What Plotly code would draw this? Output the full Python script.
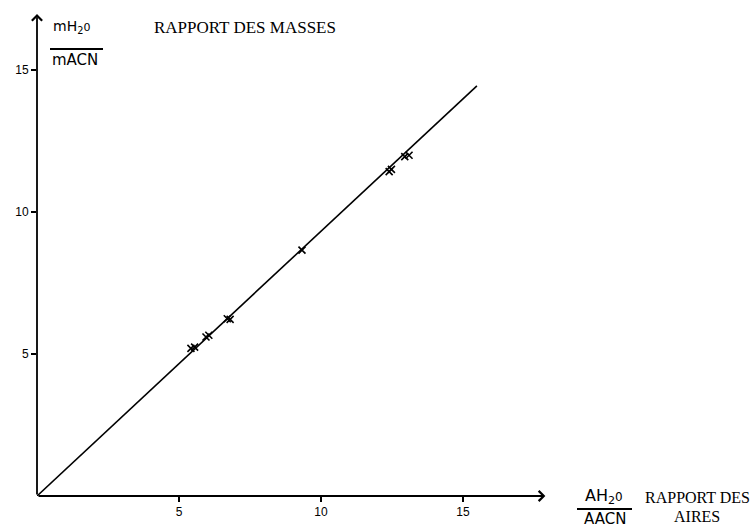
import plotly.graph_objects as go

# Calibration measurements: area ratio (x) vs mass ratio (y), water / acetonitrile
area_ratio = [5.42, 5.55, 5.95, 6.05, 6.70, 6.80, 9.33, 12.40, 12.48, 12.95, 13.10]
mass_ratio = [5.20, 5.24, 5.60, 5.66, 6.24, 6.22, 8.66, 11.42, 11.50, 11.95, 12.00]

# Fitted calibration line through the origin
fit_x = [0.0, 15.49]
fit_y = [0.0, 14.44]

# Extent of the drawn axes
x_axis_end = 17.9
y_axis_end = 16.97

tick_vals = [5, 10, 15]
tick_text = ["5", "10", "15"]

W, H = 753, 528
ML, MB = 37, 32
PX_PER_UNIT = 28.4
plot_w = W - ML
plot_h = H - MB

SERIF = "Liberation Serif, Times New Roman, serif"
SANS = "DejaVu Sans, Arial, sans-serif"


def px(xp):
    return (xp - ML) / plot_w


def py(yp):
    return (plot_h - yp) / plot_h


fig = go.Figure()

fig.add_trace(go.Scatter(
    x=fit_x, y=fit_y, mode="lines",
    line=dict(color="black", width=1.6),
    hoverinfo="skip", showlegend=False,
))

fig.add_trace(go.Scatter(
    x=area_ratio, y=mass_ratio, mode="markers",
    marker=dict(symbol="x-thin", size=7, line=dict(color="black", width=1.6)),
    showlegend=False,
))

# Axes drawn as arrows from the origin, with chevron heads
for hx, hy in ((x_axis_end, 0), (0, y_axis_end)):
    fig.add_annotation(x=hx, y=hy, ax=0, ay=0, xref="x", yref="y", axref="x", ayref="y",
                       showarrow=True, arrowhead=4, arrowsize=1.1, arrowwidth=1.8,
                       arrowcolor="black", text="")

texts = [
    # y-axis quantity
    dict(x=px(71), y=py(27), text="mH<sub>2</sub><span style='font-size:11px'>0</span>",
         font=dict(family=SANS, size=14)),
    dict(x=px(75), y=py(60), text="mACN", font=dict(family=SANS, size=15)),
    dict(x=px(152), y=py(27), text="RAPPORT DES MASSES", xanchor="left",
         font=dict(family=SERIF, size=17)),
    # x-axis quantity
    dict(x=px(604), y=py(496), text="AH<sub>2</sub><span style='font-size:12px'>0</span>",
         font=dict(family=SANS, size=16)),
    dict(x=px(605), y=py(519), text="AACN", font=dict(family=SANS, size=15)),
    dict(x=px(697), y=py(497), text="RAPPORT DES", font=dict(family=SERIF, size=16)),
    dict(x=px(697), y=py(516), text="AIRES", font=dict(family=SERIF, size=16)),
]
for t in texts:
    t.setdefault("xanchor", "center")
    fig.add_annotation(xref="paper", yref="paper", yanchor="middle", showarrow=False,
                       font_color="black", **t)

# Fraction bars
fig.add_shape(type="line", xref="paper", yref="paper",
              x0=px(50), x1=px(103), y0=py(49), y1=py(49),
              line=dict(color="black", width=2))
fig.add_shape(type="line", xref="paper", yref="paper",
              x0=px(577), x1=px(632), y0=py(509), y1=py(509),
              line=dict(color="black", width=2))

axis_common = dict(
    showgrid=False, zeroline=False, showline=False,
    ticks="outside", ticklen=5, tickwidth=2, tickcolor="black",
    tickvals=tick_vals, ticktext=tick_text,
    tickfont=dict(family="Liberation Sans, Arial, sans-serif", size=12, color="black"),
)

fig.update_layout(
    width=W, height=H,
    margin=dict(l=ML, r=0, t=0, b=MB, pad=0),
    paper_bgcolor="white", plot_bgcolor="white",
    xaxis=dict(range=[0, plot_w / PX_PER_UNIT], **axis_common),
    yaxis=dict(range=[0, plot_h / PX_PER_UNIT], **axis_common),
)

fig.write_html("out.html")
